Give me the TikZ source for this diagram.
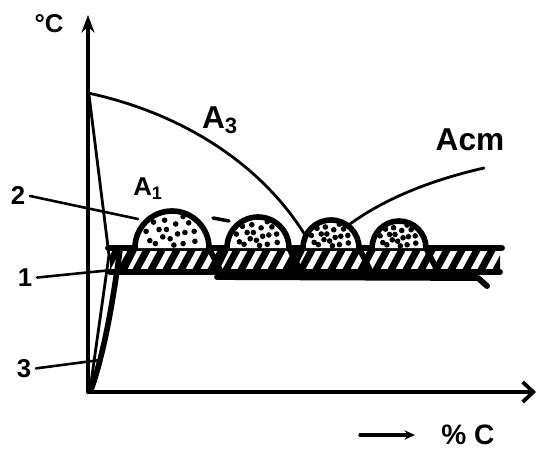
\documentclass[tikz,border=0pt]{standalone}
\usepackage{fontspec}
\setmainfont{Liberation Sans}
\usetikzlibrary{arrows.meta}

\tikzset{
  axis/.style={line width=3.2pt},
  curveline/.style={line width=2.4pt},
  heavy/.style={line width=4.8pt},
  lead/.style={line width=2.2pt, shorten <=4pt},
  hatch/.style={line width=6pt, line cap=butt},
  bandline/.style={line width=5pt},
  big/.style={font=\fontsize{27}{30}\selectfont\bfseries, inner sep=0pt},
  lbl/.style={font=\fontsize{22}{26}\selectfont\bfseries, inner sep=0pt},
}

\begin{document}
\begin{tikzpicture}[x=0.03cm, y=-0.03cm, line join=round, line cap=round]
    \useasboundingbox (0,0) rectangle (541,453);

    % labels
    \node[lbl] (degc) at (49,24) {°C};
    \node[big] (a3) at (220,120) {A\textsubscript{3}};
    \node[big] (acm) at (470,140) {Acm};
    \node[lbl] (a1) at (148,189) {A\textsubscript{1}};
    \node[lbl] (n2) at (18,195) {2};
    \node[lbl] (n1) at (25,278) {1};
    \node[lbl] (n3) at (24,369) {3};
    \node[lbl, font=\fontsize{24}{28}\selectfont\bfseries] (pc) at (468,435) {\% C};

    % curves
    \draw[curveline] (89,95) -- (109,255) -- (90,390);
    \draw[curveline] (88,93) .. controls (190,115) and (265,170) .. (305,235);
    \draw[curveline] (484,168) .. controls (440,178) and (390,195) .. (350,224);
    \draw[heavy] (91,390) .. controls (105,350) and (113,300) .. (120,250);

    % axes
    \coordinate (O) at (88,392);
    \draw[axis, -{Stealth[length=15pt,width=11pt]}] (O) -- (88,15);
    \draw[axis, -{Straight Barb[length=9pt,width=17pt]}] (O) -- (536,392);
    \coordinate (pcarrow) at (360,435);
    \draw[line width=2.8pt, -{Stealth[length=9pt,width=8pt]}] (pcarrow) -- (415,435);

    % hatched band
    \begin{scope}
        \clip (110,250) rectangle (500,271);
        \foreach \x in {90,105,...,510}
            \draw[hatch] (\x,272) -- ++(13,-24);
    \end{scope}
    \draw[bandline] (108,248) -- (502,248);
    \draw[bandline] (110,272) -- (500,272);
    \draw[bandline] (217,277) -- (478,278) -- (487,286);

    % leaders
    \draw[lead] (n2.east) -- (138,219);
    \draw[line width=3pt] (213,218) -- (229,221);
    \draw[lead] (n1.east) -- (112,270);
    \draw[lead] (n3.east) -- (100,360);

    % domes
    \foreach \c/\rad in {172/37, 258/31, 331/28, 399/27} {
        \fill[white] (\c-\rad,248) arc[start angle=180, end angle=360, radius=\rad] -- cycle;
        \foreach \dx/\dy in {-0.6/0.2, -0.35/0.5, -0.05/0.25, 0.1/0.65, 0.35/0.42,
                             0.62/0.18, -0.2/0.75, 0.3/0.12, -0.45/0.12, 0.45/0.68,
                             -0.7/0.45, 0.15/0.38, -0.15/0.5, 0.6/0.45, -0.5/0.7,
                             0.05/0.08, -0.25/0.3, 0.3/0.85}
            \fill ({\c+\dx*\rad},{248-\dy*\rad}) circle[radius=2.8];
        \draw[heavy] (\c-\rad-12,272) -- (\c-\rad,248)
            arc[start angle=180, end angle=360, radius=\rad] -- (\c+\rad+12,272);
    }
\end{tikzpicture}
\end{document}
